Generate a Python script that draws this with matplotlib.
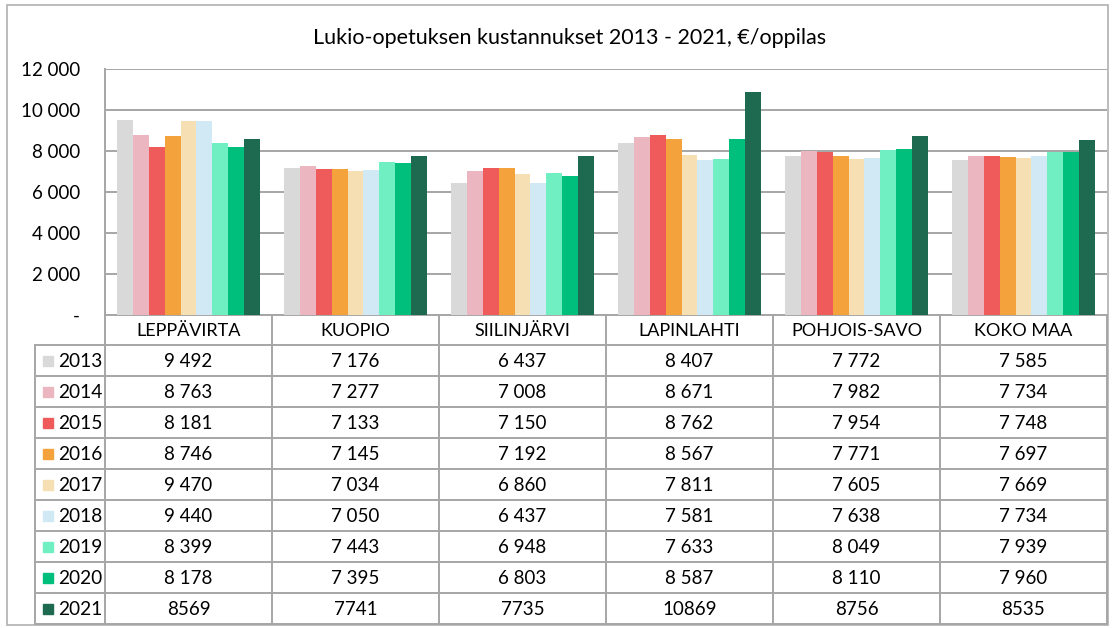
import matplotlib
matplotlib.use("Agg")
import matplotlib.pyplot as plt
from matplotlib.ticker import FuncFormatter
from matplotlib.patches import Rectangle

plt.rcParams['font.family'] = ['Lato', 'DejaVu Sans']

# data
kunnat = ["LEPPÄVIRTA", "KUOPIO", "SIILINJÄRVI", "LAPINLAHTI", "POHJOIS-SAVO", "KOKO MAA"]
vuodet = [2013, 2014, 2015, 2016, 2017, 2018, 2019, 2020, 2021]
kust = {
    2013: [9492, 7176, 6437, 8407, 7772, 7585],
    2014: [8763, 7277, 7008, 8671, 7982, 7734],
    2015: [8181, 7133, 7150, 8762, 7954, 7748],
    2016: [8746, 7145, 7192, 8567, 7771, 7697],
    2017: [9470, 7034, 6860, 7811, 7605, 7669],
    2018: [9440, 7050, 6437, 7581, 7638, 7734],
    2019: [8399, 7443, 6948, 7633, 8049, 7939],
    2020: [8178, 7395, 6803, 8587, 8110, 7960],
    2021: [8569, 7741, 7735, 10869, 8756, 8535],
}
# 2021-rivi on taulukossa ilman tuhaterotinta
ilman_erotinta = [2021]
varit = ["#d9d9d9", "#ecb6c1", "#ef5b5b", "#f4a23c", "#f7dfb4",
         "#d0e9f4", "#70f0c2", "#00bf7c", "#1d6a50"]
otsikko = "Lukio-opetuksen kustannukset 2013 - 2021, €/oppilas"

W, H = 1113, 628
fig = plt.figure(figsize=(W / 100, H / 100), dpi=100)

# taustakerros pikselikoordinaateissa (kehys + taulukko)
bg = fig.add_axes([0, 0, 1, 1])
bg.set_xlim(0, W)
bg.set_ylim(H, 0)
bg.axis("off")

viiva = "#a6a6a6"
lw = 1.4

bg.add_patch(Rectangle((7, 5), 1101, 620, fill=False, ec="#b0b0b0", lw=1.2))

x0, x1 = 105, 1107
y_top, y_axis = 69, 315
y_head = 345
rivi_h = 31
leg_x = 35
col_w = (x1 - x0) / len(kunnat)

# bar-axes
ax = fig.add_axes([x0 / W, (H - y_axis) / H, (x1 - x0) / W, (y_axis - y_top) / H])
n = len(vuodet)
w = 0.095
for j, v in enumerate(vuodet):
    xs = [i + 0.5 + (j - (n - 1) / 2) * w for i in range(len(kunnat))]
    ax.bar(xs, kust[v], width=w, color=varit[j], zorder=3)
ax.set_xlim(0, len(kunnat))
ax.set_ylim(0, 12000)
ax.set_yticks(range(0, 12001, 2000))
ax.yaxis.set_major_formatter(FuncFormatter(
    lambda val, p: "-" if val == 0 else f"{int(val):,}".replace(",", " ")))
ax.tick_params(axis="y", length=0, labelsize=13.5, pad=18)
ax.set_xticks([])
ax.grid(axis="y", color=viiva, lw=lw, zorder=0)
for s in ["top", "right", "bottom"]:
    ax.spines[s].set_visible(False)
ax.spines["left"].set_color(viiva)
ax.spines["left"].set_linewidth(lw)
ax.patch.set_alpha(0)

fig.text(0.512, 1 - 38 / H, otsikko, ha="center", va="center", fontsize=15.5)

# taulukko
y_end = y_head + rivi_h * n
bg.plot([x0, x1], [y_axis, y_axis], color=viiva, lw=lw)
for k in range(len(kunnat) + 1):
    xx = x0 + k * col_w
    bg.plot([xx, xx], [y_axis, y_end], color=viiva, lw=lw)
bg.plot([leg_x, leg_x], [y_head, y_end], color=viiva, lw=lw)
for r in range(n + 1):
    yy = y_head + r * rivi_h
    bg.plot([leg_x, x1], [yy, yy], color=viiva, lw=lw)

for i, k in enumerate(kunnat):
    bg.text(x0 + (i + 0.5) * col_w, (y_axis + y_head) / 2 + 1, k,
            ha="center", va="center", fontsize=13)

for j, v in enumerate(vuodet):
    yc = y_head + (j + 0.5) * rivi_h
    bg.add_patch(Rectangle((43, yc - 5), 10, 10, color=varit[j]))
    bg.text(58, yc + 1, str(v), ha="left", va="center", fontsize=13.8)
    for i, val in enumerate(kust[v]):
        teksti = str(val) if v in ilman_erotinta else f"{val:,}".replace(",", " ")
        bg.text(x0 + (i + 0.5) * col_w, yc + 1, teksti,
                ha="center", va="center", fontsize=13.5)

fig.savefig("out.png", dpi=100)
